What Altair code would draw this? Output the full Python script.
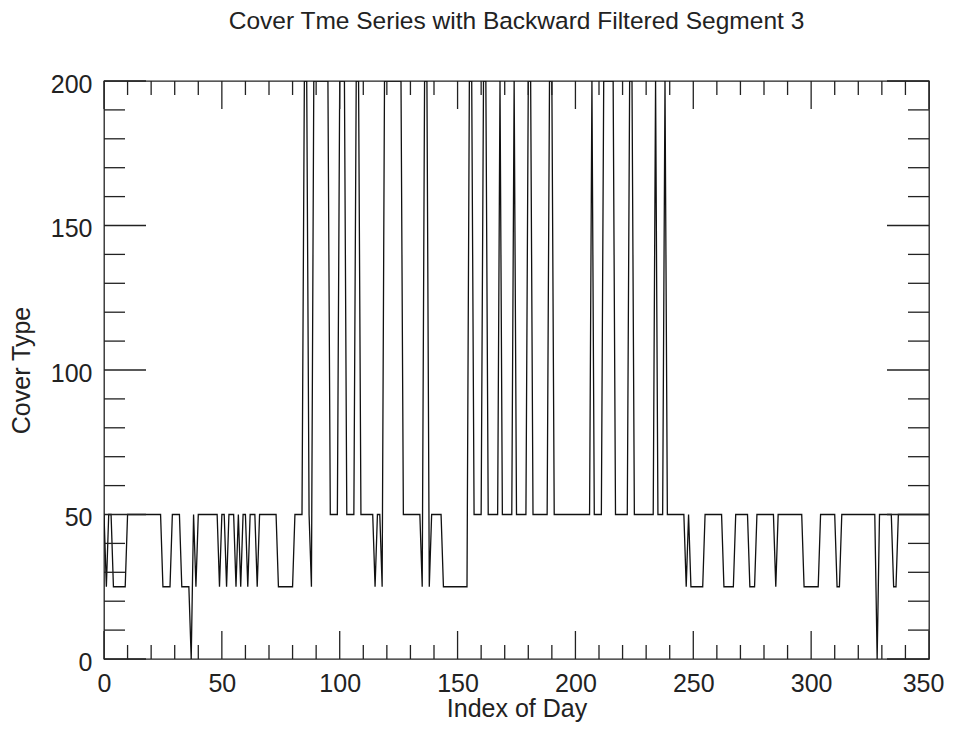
import altair as alt
import pandas as pd

# Daily cover type values, index 0..350
cover = [
    50, 25, 50, 50, 25, 25, 25, 25, 25, 25,          # 0-9
    50, 50, 50, 50, 50, 50, 50, 50, 50, 50,          # 10-19
    50, 50, 50, 50, 50, 25, 25, 25, 25, 50,          # 20-29
    50, 50, 50, 25, 25, 25, 25, 0, 50, 25,           # 30-39
    50, 50, 50, 50, 50, 50, 50, 50, 50, 25,          # 40-49
    50, 50, 25, 50, 50, 50, 25, 50, 25, 50,          # 50-59
    50, 25, 50, 50, 50, 25, 50, 50, 50, 50,          # 60-69
    50, 50, 50, 50, 25, 25, 25, 25, 25, 25,          # 70-79
    25, 50, 50, 50, 50, 200, 200, 50, 25, 200,       # 80-89
    200, 200, 200, 200, 200, 200, 50, 50, 50, 50,    # 90-99
    200, 200, 200, 50, 50, 50, 50, 200, 200, 50,     # 100-109
    50, 50, 50, 50, 50, 25, 50, 50, 25, 200,         # 110-119
    200, 200, 200, 200, 200, 200, 200, 50, 50, 50,   # 120-129
    50, 50, 50, 50, 50, 25, 200, 200, 25, 50,        # 130-139
    50, 50, 50, 50, 25, 25, 25, 25, 25, 25,          # 140-149
    25, 25, 25, 25, 25, 200, 200, 50, 50, 50,        # 150-159
    50, 200, 200, 50, 50, 50, 50, 50, 200, 50,       # 160-169
    50, 50, 50, 50, 200, 50, 50, 50, 50, 50,         # 170-179
    200, 200, 50, 50, 50, 50, 50, 50, 50, 200,       # 180-189
    200, 50, 50, 50, 50, 50, 50, 50, 50, 50,         # 190-199
    50, 50, 50, 50, 50, 50, 50, 200, 50, 50,         # 200-209
    50, 50, 200, 200, 200, 200, 200, 50, 50, 50,     # 210-219
    50, 50, 50, 200, 200, 50, 50, 50, 50, 50,        # 220-229
    50, 50, 50, 50, 200, 50, 50, 50, 200, 50,        # 230-239
    50, 50, 50, 50, 50, 50, 50, 25, 50, 25,          # 240-249
    25, 25, 25, 25, 25, 50, 50, 50, 50, 50,          # 250-259
    50, 50, 50, 25, 25, 25, 25, 25, 50, 50,          # 260-269
    50, 50, 50, 50, 25, 25, 25, 50, 50, 50,          # 270-279
    50, 50, 50, 50, 50, 25, 50, 50, 50, 50,          # 280-289
    50, 50, 50, 50, 50, 50, 50, 25, 25, 25,          # 290-299
    25, 25, 25, 25, 50, 50, 50, 50, 50, 50,          # 300-309
    50, 25, 25, 50, 50, 50, 50, 50, 50, 50,          # 310-319
    50, 50, 50, 50, 50, 50, 50, 50, 0, 50,           # 320-329
    50, 50, 50, 50, 50, 25, 25, 50, 50, 50,          # 330-339
    50, 50, 50, 50, 50, 50, 50, 50, 50, 50, 50,      # 340-350
]
days = list(range(len(cover)))

x_major = [0, 50, 100, 150, 200, 250, 300, 350]
x_minor = [10, 20, 30, 40, 60, 70, 80, 90, 110, 120, 130, 140, 160, 170, 180, 190,
           210, 220, 230, 240, 260, 270, 280, 290, 310, 320, 330, 340]
y_major = [0, 50, 100, 150, 200]
y_minor = [10, 20, 30, 40, 60, 70, 80, 90, 110, 120, 130, 140, 160, 170, 180, 190]

W, H = 825, 578
XMAJ, XMIN = 28, 14
YMAJ, YMIN = 42, 21
TICK_COLOR = "#222222"

df = pd.DataFrame({"day": days, "cover": cover})
xmaj_df = pd.DataFrame({"v": x_major})
xmin_df = pd.DataFrame({"v": x_minor})
ymaj_df = pd.DataFrame({"v": y_major})
ymin_df = pd.DataFrame({"v": y_minor})

xscale = alt.Scale(domain=[0, 350], nice=False, zero=False)
yscale = alt.Scale(domain=[0, 200], nice=False, zero=False)

xaxis = alt.Axis(values=x_major, title="Index of Day", ticks=False, tickSize=0,
                 domain=False, grid=False, labelPadding=12, titlePadding=0,
                 labelFlush=False, labelOverlap=False, labelBound=False,
                 labelOffset={"condition": {"test": "datum.value == 350", "value": -6},
                              "value": 0})
yaxis = alt.Axis(values=y_major, title="Cover Type", ticks=False, tickSize=0,
                 domain=False, grid=False, labelPadding=12, titlePadding=16,
                 labelOffset=3, labelFlush=False, labelOverlap=False)

line = alt.Chart(df).mark_line(color="#111111", strokeWidth=1.3, clip=True).encode(
    x=alt.X("day:Q", scale=xscale, axis=xaxis),
    y=alt.Y("cover:Q", scale=yscale, axis=yaxis),
)


def xticks(data, length, top):
    base = alt.Chart(data).mark_rule(color=TICK_COLOR, strokeWidth=1.3)
    xenc = alt.X("v:Q", scale=xscale, axis=xaxis, title="Index of Day")
    if top:
        return base.encode(x=xenc, y=alt.value(0), y2=alt.value(length))
    return base.encode(x=xenc, y=alt.value(H), y2=alt.value(H - length))


def yticks(data, length, right):
    base = alt.Chart(data).mark_rule(color=TICK_COLOR, strokeWidth=1.3)
    yenc = alt.Y("v:Q", scale=yscale, axis=yaxis, title="Cover Type")
    if right:
        return base.encode(y=yenc, x=alt.value(W), x2=alt.value(W - length))
    return base.encode(y=yenc, x=alt.value(0), x2=alt.value(length))


chart = alt.layer(
    line,
    xticks(xmaj_df, XMAJ, False), xticks(xmin_df, XMIN, False),
    xticks(xmaj_df, XMAJ, True), xticks(xmin_df, XMIN, True),
    yticks(ymaj_df, YMAJ, False), yticks(ymin_df, YMIN, False),
    yticks(ymaj_df, YMAJ, True), yticks(ymin_df, YMIN, True),
).properties(
    width=W, height=H,
    title=alt.TitleParams("Cover Tme Series with Backward Filtered Segment 3",
                          fontSize=24.5, fontWeight="normal", color="#222222",
                          anchor="middle", offset=38),
    autosize=alt.AutoSizeParams(type="none"),
    padding={"left": 96, "top": 73, "right": 16, "bottom": 68},
).configure(
    font="Liberation Sans",
).configure_view(
    stroke="#222222", strokeWidth=1.3,
).configure_axis(
    labelFontSize=25, titleFontSize=25, titleFontWeight="normal",
    labelColor="#222222", titleColor="#222222",
)

chart.save("out.html", embed_options={"renderer": "svg", "actions": False})
